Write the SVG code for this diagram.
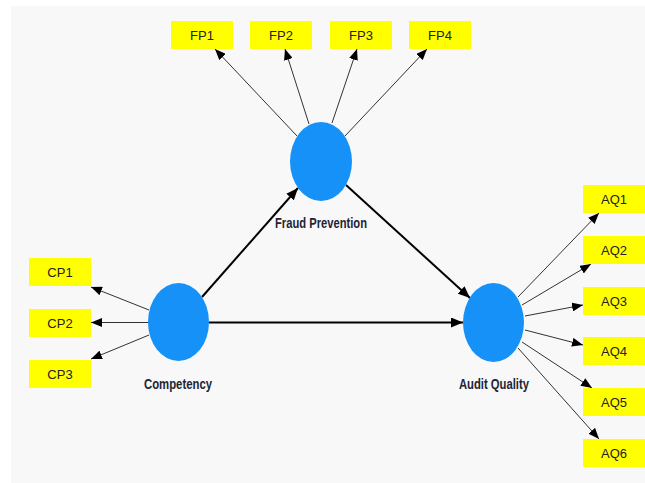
<svg xmlns="http://www.w3.org/2000/svg" width="645" height="483" viewBox="0 0 645 483">
<style>
.bg{fill:#f8f8f8}
.ind rect{fill:#ffff00}
.ind text{font-family:"Liberation Sans",Arial,sans-serif;font-size:13px;fill:#222;text-anchor:middle}
.lv ellipse{fill:#1591f8}
.lv text{font-family:"Liberation Sans",Arial,sans-serif;font-size:14px;font-weight:bold;fill:#1e2433;text-anchor:middle}
.thin{stroke:#333;stroke-width:1;fill:none}
.thick{stroke:#000;stroke-width:2;fill:none}
</style>
<defs>
<marker id="a" markerUnits="userSpaceOnUse" markerWidth="11" markerHeight="9" refX="11" refY="4.5" orient="auto">
<path d="M0,0 L11,4.5 L0,9 z" fill="#000"/>
</marker>
<marker id="b" markerUnits="userSpaceOnUse" markerWidth="12" markerHeight="10" refX="12" refY="5" orient="auto">
<path d="M0,0 L12,5 L0,10 z" fill="#000"/>
</marker>
</defs>
<rect width="645" height="483" fill="#fff"/>
<rect class="bg" x="11" y="6" width="634" height="477"/>
<g id="connectors">
<line class="thin" x1="297" y1="136" x2="215" y2="49" marker-end="url(#a)"/>
<line class="thin" x1="309" y1="124" x2="285" y2="49" marker-end="url(#a)"/>
<line class="thin" x1="332" y1="123" x2="357" y2="49" marker-end="url(#a)"/>
<line class="thin" x1="345" y1="136" x2="427" y2="49" marker-end="url(#a)"/>
<line class="thin" x1="149" y1="310" x2="91" y2="287" marker-end="url(#a)"/>
<line class="thin" x1="149" y1="322.5" x2="91" y2="322.5" marker-end="url(#a)"/>
<line class="thin" x1="149" y1="335" x2="91" y2="359" marker-end="url(#a)"/>
<line class="thin" x1="518" y1="297" x2="599" y2="213" marker-end="url(#a)"/>
<line class="thin" x1="522" y1="305" x2="591" y2="264" marker-end="url(#a)"/>
<line class="thin" x1="525" y1="316" x2="583" y2="305" marker-end="url(#a)"/>
<line class="thin" x1="525" y1="330" x2="583" y2="345" marker-end="url(#a)"/>
<line class="thin" x1="522" y1="342" x2="592" y2="388" marker-end="url(#a)"/>
<line class="thin" x1="518" y1="348" x2="599" y2="439" marker-end="url(#a)"/>
<line class="thick" x1="202" y1="297" x2="298" y2="188" marker-end="url(#b)"/>
<line class="thick" x1="346" y1="185" x2="470" y2="298" marker-end="url(#b)"/>
<line class="thick" x1="209" y1="322.5" x2="463" y2="322.5" marker-end="url(#b)"/>
</g>
<g id="fraud-prevention" class="lv">
<ellipse cx="321" cy="161.5" rx="31" ry="39.5"/>
<text x="321" y="227.5" textLength="92" lengthAdjust="spacingAndGlyphs">Fraud Prevention</text>
</g>
<g id="competency" class="lv">
<ellipse cx="178.5" cy="322" rx="30.5" ry="39"/>
<text x="178" y="388.5" textLength="68" lengthAdjust="spacingAndGlyphs">Competency</text>
</g>
<g id="audit-quality" class="lv">
<ellipse cx="493.5" cy="322.5" rx="30.5" ry="39.5"/>
<text x="494" y="389" textLength="70" lengthAdjust="spacingAndGlyphs">Audit Quality</text>
</g>
<g id="FP1" class="ind"><rect x="171" y="21" width="62" height="28"/><text x="202" y="40">FP1</text></g>
<g id="FP2" class="ind"><rect x="250" y="21" width="62" height="28"/><text x="281" y="40">FP2</text></g>
<g id="FP3" class="ind"><rect x="330" y="21" width="62" height="28"/><text x="361" y="40">FP3</text></g>
<g id="FP4" class="ind"><rect x="409" y="21" width="62" height="28"/><text x="440" y="40">FP4</text></g>
<g id="CP1" class="ind"><rect x="29" y="258" width="62" height="28"/><text x="60" y="277">CP1</text></g>
<g id="CP2" class="ind"><rect x="29" y="309" width="62" height="28"/><text x="60" y="328">CP2</text></g>
<g id="CP3" class="ind"><rect x="29" y="360" width="62" height="28"/><text x="60" y="379">CP3</text></g>
<g id="AQ1" class="ind"><rect x="583" y="185" width="62" height="28"/><text x="614" y="204">AQ1</text></g>
<g id="AQ2" class="ind"><rect x="583" y="236" width="62" height="28"/><text x="614" y="255">AQ2</text></g>
<g id="AQ3" class="ind"><rect x="583" y="287" width="62" height="28"/><text x="614" y="306">AQ3</text></g>
<g id="AQ4" class="ind"><rect x="583" y="337" width="62" height="28"/><text x="614" y="356">AQ4</text></g>
<g id="AQ5" class="ind"><rect x="583" y="388" width="62" height="28"/><text x="614" y="407">AQ5</text></g>
<g id="AQ6" class="ind"><rect x="583" y="439" width="62" height="28"/><text x="614" y="458">AQ6</text></g>
</svg>
